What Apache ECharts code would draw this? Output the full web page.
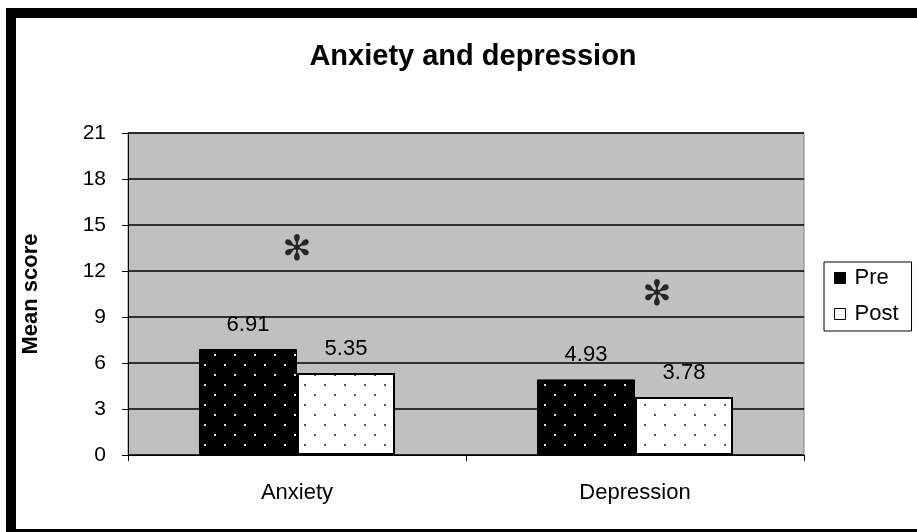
<!DOCTYPE html>
<html>
<head>
<meta charset="utf-8">
<script src="https://cdn.jsdelivr.net/npm/echarts@6/dist/echarts.min.js"></script>
<style>
html,body{margin:0;padding:0;background:#fff;}
#chart{width:917px;height:532px;}
</style>
</head>
<body>
<div id="chart"></div>
<script>
var categories = ['Anxiety', 'Depression'];
var preValues = [6.91, 4.93];
var postValues = [5.35, 3.78];
var seriesNames = ['Pre', 'Post'];
var sigMarks = [13.3, 10.4];
var yTicks = [0, 3, 6, 9, 12, 15, 18, 21];

function dotPattern(bg, dot) {
  var c = document.createElement('canvas');
  c.width = 20; c.height = 20;
  var g = c.getContext('2d');
  g.fillStyle = bg; g.fillRect(0, 0, 20, 20);
  g.fillStyle = dot;
  g.fillRect(4, 4, 2, 2);
  g.fillRect(14, 14, 2, 2);
  return c;
}

var FONT = 'Liberation Sans, Arial, sans-serif';
var chart = echarts.init(document.getElementById('chart'));
chart.setOption({
  backgroundColor: '#fff',
  animation: false,
  textStyle: { fontFamily: FONT, color: '#000' },
  title: {
    text: 'Anxiety and depression',
    left: 468, top: 37, textAlign: 'center',
    textStyle: { fontFamily: FONT, fontSize: 29, fontWeight: 'bold', color: '#000' }
  },
  legend: {
    orient: 'vertical',
    left: 824, top: 262,
    itemWidth: 11, itemHeight: 11, itemGap: 14,
    padding: [5, 13, 6, 10],
    borderColor: '#000', borderWidth: 1,
    icon: 'rect',
    textStyle: { fontFamily: FONT, fontSize: 22, color: '#000', padding: [0, 0, 0, 4] },
    data: [
      { name: seriesNames[0], itemStyle: { color: '#000', borderColor: '#000', borderWidth: 1 } },
      { name: seriesNames[1], itemStyle: { color: '#fff', borderColor: '#000', borderWidth: 1 } }
    ]
  },
  grid: {
    left: 128, right: 113, top: 133, bottom: 77,
    show: true, backgroundColor: '#c0c0c0', borderColor: '#808080', borderWidth: 1
  },
  xAxis: {
    type: 'category',
    data: categories,
    axisLine: { lineStyle: { color: '#000', width: 1 } },
    axisTick: { show: true, length: 6, lineStyle: { color: '#000' } },
    axisLabel: { fontFamily: FONT, fontSize: 22, color: '#000', margin: 27 }
  },
  yAxis: {
    type: 'value',
    min: 0, max: 21, interval: 3,
    name: 'Mean score',
    nameLocation: 'middle', nameGap: 86, nameRotate: 90,
    nameTextStyle: { fontFamily: FONT, fontSize: 22, fontWeight: 'bold', color: '#000' },
    axisLine: { show: true, lineStyle: { color: '#000', width: 1 } },
    axisTick: { show: true, length: 6, lineStyle: { color: '#000' } },
    axisLabel: { fontFamily: FONT, fontSize: 21, color: '#000', margin: 22 },
    splitLine: { show: true, lineStyle: { color: '#000', width: 1.5 } }
  },
  series: [
    {
      name: seriesNames[0], type: 'bar', data: preValues,
      barGap: '0%', barCategoryGap: '42%',
      itemStyle: { color: { image: dotPattern('#000', '#ddd'), repeat: 'repeat' }, borderColor: '#000', borderWidth: 1 },
      label: { show: true, position: 'top', distance: 13, fontFamily: FONT, fontSize: 22, color: '#000' }
    },
    {
      name: seriesNames[1], type: 'bar', data: postValues,
      itemStyle: { color: { image: dotPattern('#fff', '#555'), repeat: 'repeat' }, borderColor: '#000', borderWidth: 2 },
      label: { show: true, position: 'top', distance: 13, fontFamily: FONT, fontSize: 22, color: '#000' }
    },
    {
      name: 'sig', type: 'scatter',
      data: [
        { value: sigMarks[0] },
        { value: sigMarks[1], label: { offset: [22, 0] } }
      ],
      symbolSize: 1, itemStyle: { color: 'rgba(0,0,0,0)' },
      silent: true,
      label: {
        show: true, position: 'inside', formatter: '\u273B',
        fontFamily: 'DejaVu Sans', fontSize: 35, color: '#000'
      }
    }
  ],
  graphic: [
    { type: 'rect', shape: { x: 6, y: 8, width: 911, height: 10 }, style: { fill: '#000' } },
    { type: 'rect', shape: { x: 6, y: 8, width: 10, height: 524 }, style: { fill: '#000' } },
    { type: 'rect', shape: { x: 6, y: 529, width: 911, height: 3 }, style: { fill: '#000' } }
  ]
});
</script>
</body>
</html>
